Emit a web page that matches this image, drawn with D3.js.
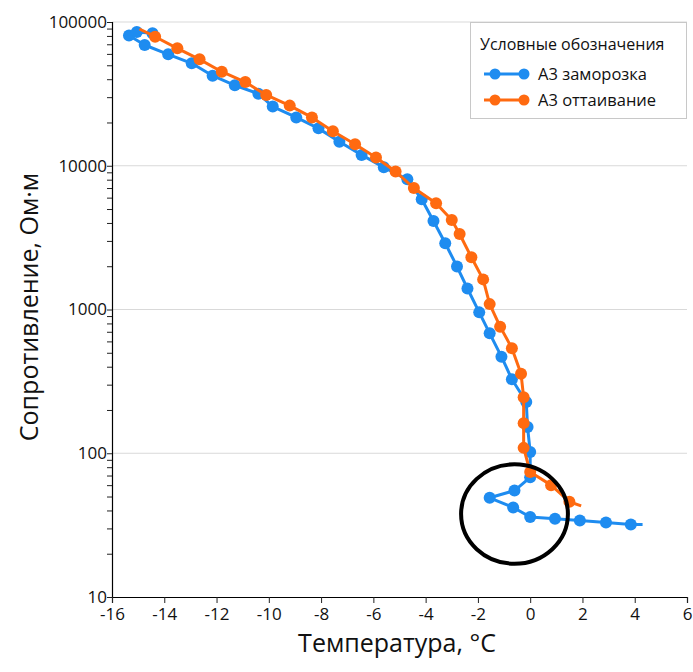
<!DOCTYPE html>
<html>
<head>
<meta charset="utf-8">
<script src="https://cdn.jsdelivr.net/npm/d3@7"></script>
<style>
  html, body { margin: 0; padding: 0; background: #fff; }
  svg { display: block; font-family: "Open Sans", "Noto Sans", sans-serif; }
</style>
</head>
<body>
<svg id="chart" width="693" height="672"></svg>
<script>
// Freezing run (А3 заморозка), in measurement order: warm start -> cold end
const freezeTemp = [4.3, 3.85, 2.9, 1.9, 0.95, 0.0, -0.65, -1.55, -0.6, 0.0, 0.0, -0.1, -0.15,
  -0.7, -1.1, -1.55, -1.95, -2.4, -2.8, -3.25, -3.7, -4.15, -4.7, -5.6, -6.45, -7.3, -8.1,
  -8.95, -9.85, -10.4, -11.3, -12.15, -12.95, -13.85, -14.75, -15.35, -15.05, -14.45];
const freezeRes = [32, 32, 33, 34, 35, 36, 42, 49, 55, 68, 102, 152, 227,
  327, 470, 683, 955, 1400, 1990, 2890, 4130, 5840, 8050, 9750, 11900, 14700, 18200,
  21700, 25800, 31700, 36300, 42300, 51600, 59600, 69200, 80500, 85200, 83400];
// the first reading of the freezing run is shown without a marker
const freezeMarked = freezeTemp.map((t, i) => i > 0);

// Thawing run (А3 оттаивание): cold start -> warm end
const thawTemp = [-14.95, -14.35, -13.5, -12.65, -11.8, -10.9, -10.1, -9.2, -8.35, -7.55, -6.7,
  -5.9, -5.15, -4.45, -3.6, -3.0, -2.7, -2.25, -1.8, -1.55, -1.15, -0.7, -0.35, -0.25,
  -0.25, -0.25, 0.0, 0.8, 1.5, 1.95];
const thawRes = [89400, 79000, 65600, 55000, 45100, 38200, 31100, 26200, 21700, 17400, 14100,
  11400, 9120, 7000, 5480, 4190, 3350, 2310, 1620, 1090, 760, 538, 357, 245,
  162, 109, 74, 60, 46, 43];
// first and last readings of the thawing run carry no marker
const thawMarked = thawTemp.map((t, i) => i > 0 && i < thawTemp.length - 1);

const seriesNames = ["А3 заморозка", "А3 оттаивание"];
const seriesColors = ["#1e8cf0", "#ff6a10"];

const xTicks = [-16, -14, -12, -10, -8, -6, -4, -2, 0, 2, 4, 6];
const yMajorTicks = [10, 100, 1000, 10000, 100000];

// Highlighted region around the supercooling loop (temperature / resistance bounds)
const loopTempRange = [-2.72, 1.52];
const loopResRange = [16.5, 86.5];

const legendTitle = "Условные обозначения";
const xTitle = "Температура, °C";
const yTitle = "Сопротивление, Ом·м";

const svg = d3.select("#chart");
const plot = { left: 112, right: 687, top: 22, bottom: 597 };

const x = d3.scaleLinear().domain([-16, 6]).range([plot.left, plot.right]);
const y = d3.scaleLog().domain([10, 100000]).range([plot.bottom, plot.top]);

// horizontal gridlines at each decade
svg.append("g").selectAll("line")
  .data(yMajorTicks.filter(v => v > 10))
  .join("line")
  .attr("x1", plot.left).attr("x2", plot.right)
  .attr("y1", d => y(d)).attr("y2", d => y(d))
  .attr("stroke", "#d9d9d9").attr("stroke-width", 1.2);

// y axis with log minor ticks
const yMinor = [];
for (let dec = 10; dec < 100000; dec *= 10) {
  for (let k = 1; k <= 9; k++) yMinor.push(dec * k);
}
yMinor.push(100000);
const yAxis = d3.axisLeft(y)
  .tickValues(yMinor)
  .tickSize(5)
  .tickFormat(d => yMajorTicks.includes(d) ? String(d) : "");
const gy = svg.append("g").attr("transform", `translate(${plot.left},0)`).call(yAxis);
gy.select(".domain").attr("stroke", "#000").attr("stroke-width", 1.2);
gy.selectAll(".tick line").attr("stroke", "#222").attr("stroke-width", 1);
gy.selectAll(".tick text").attr("font-size", 17).attr("fill", "#111")
  .attr("font-family", "'Open Sans', sans-serif").attr("x", -5);

// x axis
const xAxis = d3.axisBottom(x).tickValues(xTicks).tickSize(6).tickFormat(d => String(d));
const gx = svg.append("g").attr("transform", `translate(0,${plot.bottom})`).call(xAxis);
gx.select(".domain").attr("stroke", "#000").attr("stroke-width", 1.2);
gx.selectAll(".tick line").attr("stroke", "#222");
gx.selectAll(".tick text").attr("font-size", 17).attr("fill", "#111")
  .attr("font-family", "'Open Sans', sans-serif").attr("dy", "0.85em");

// axis titles
svg.append("text")
  .attr("x", 397).attr("y", 652)
  .attr("text-anchor", "middle").attr("font-size", 25).attr("fill", "#111")
  .text(xTitle);
svg.append("text")
  .attr("transform", "translate(38,307) rotate(-90)")
  .attr("text-anchor", "middle").attr("font-size", 25).attr("fill", "#111")
  .text(yTitle);

// series
const series = [
  { t: freezeTemp, r: freezeRes, m: freezeMarked },
  { t: thawTemp, r: thawRes, m: thawMarked }
];
const line = d3.line().x(d => x(d[0])).y(d => y(d[1]));
series.forEach((s, si) => {
  const pts = s.t.map((t, i) => [t, s.r[i], s.m[i]]);
  const g = svg.append("g");
  g.append("path").datum(pts)
    .attr("d", line).attr("fill", "none")
    .attr("stroke", seriesColors[si]).attr("stroke-width", 3)
    .attr("stroke-linejoin", "round");
  g.selectAll("circle").data(pts.filter(p => p[2])).join("circle")
    .attr("cx", d => x(d[0])).attr("cy", d => y(d[1])).attr("r", 6)
    .attr("fill", seriesColors[si]);
});

// annotation ellipse
const ex0 = x(loopTempRange[0]), ex1 = x(loopTempRange[1]);
const ey0 = y(loopResRange[1]), ey1 = y(loopResRange[0]);
svg.append("ellipse")
  .attr("cx", (ex0 + ex1) / 2).attr("cy", (ey0 + ey1) / 2)
  .attr("rx", (ex1 - ex0) / 2 - 2).attr("ry", (ey1 - ey0) / 2 - 2)
  .attr("fill", "none").attr("stroke", "#000").attr("stroke-width", 4);

// legend
const lg = svg.append("g");
lg.append("rect").attr("x", 470.5).attr("y", 22.5).attr("width", 216).attr("height", 96)
  .attr("fill", "#fff").attr("stroke", "#c8c8c8").attr("stroke-width", 1);
lg.append("text").attr("x", 480).attr("y", 50).attr("font-size", 16).attr("fill", "#111")
  .text(legendTitle);
seriesNames.forEach((name, i) => {
  const yy = 74 + i * 26;
  lg.append("line").attr("x1", 484).attr("x2", 528).attr("y1", yy).attr("y2", yy)
    .attr("stroke", seriesColors[i]).attr("stroke-width", 3);
  [495, 524].forEach(cx => lg.append("circle").attr("cx", cx).attr("cy", yy).attr("r", 5.5)
    .attr("fill", seriesColors[i]));
  lg.append("text").attr("x", 538).attr("y", yy + 6).attr("font-size", 16.5).attr("fill", "#111")
    .text(name);
});
</script>
</body>
</html>
